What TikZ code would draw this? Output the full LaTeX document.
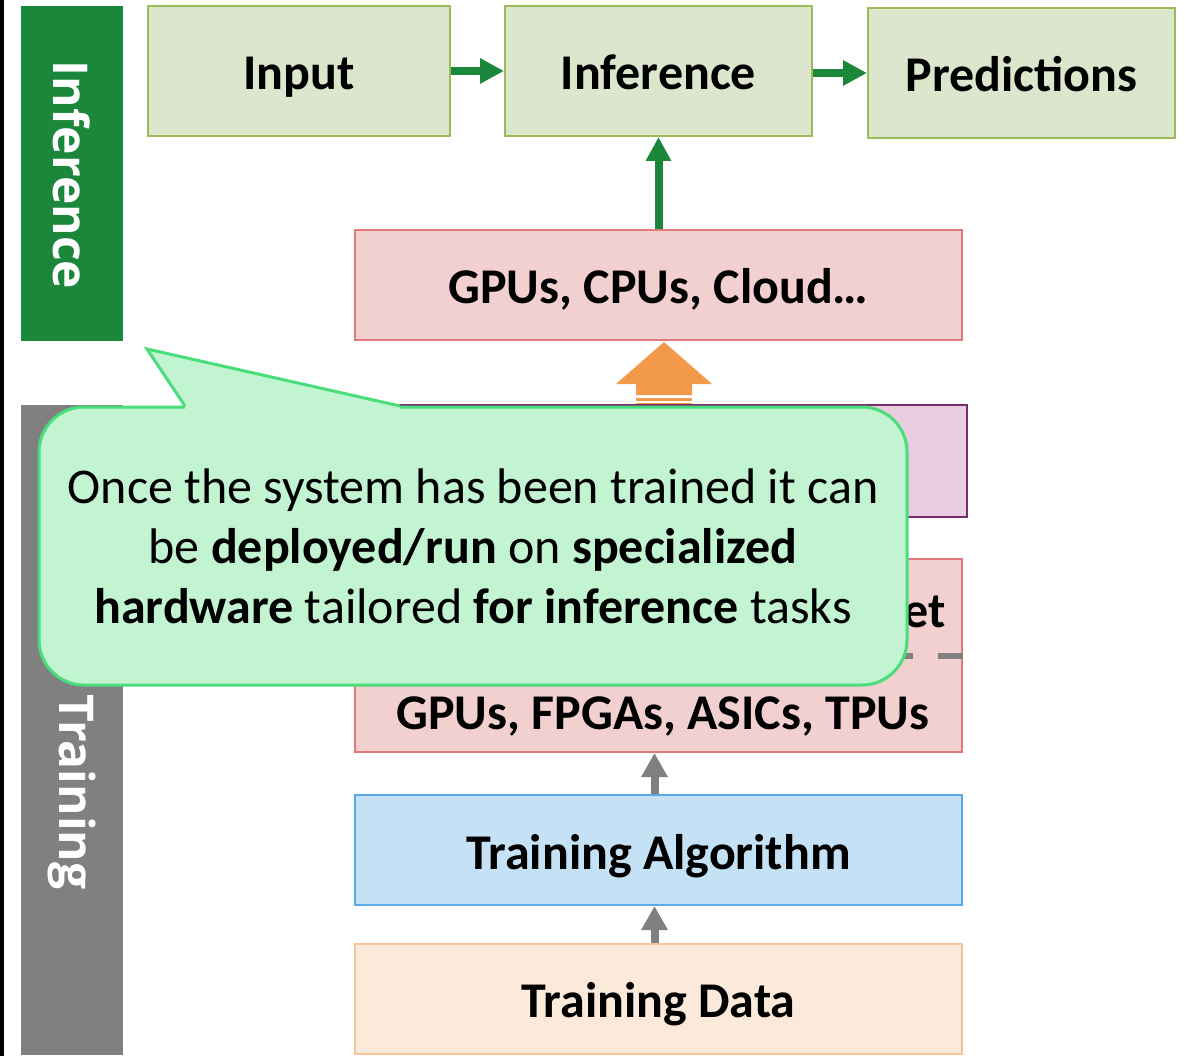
\documentclass[tikz,border=0pt]{standalone}
\usepackage{fontspec}
\setmainfont{Carlito}
\newfontfamily\sidefont{Open Sans}
\usetikzlibrary{arrows.meta}

\definecolor{barGreen}{HTML}{1A873A}
\definecolor{barGray}{HTML}{808080}
\definecolor{inFill}{HTML}{DCE6CD}
\definecolor{inLine}{HTML}{9BBB59}
\definecolor{hwFill}{HTML}{F2D0D0}
\definecolor{hwLine}{HTML}{E07A7A}
\definecolor{mdFill}{HTML}{E8CCE0}
\definecolor{mdLine}{HTML}{7B2C6C}
\definecolor{alFill}{HTML}{C5E1F6}
\definecolor{alLine}{HTML}{5AA9EA}
\definecolor{daFill}{HTML}{FBE9DA}
\definecolor{daLine}{HTML}{F6C496}
\definecolor{coFill}{HTML}{C2F4D2}
\definecolor{coLine}{HTML}{4ADE7B}
\definecolor{blockOrange}{HTML}{F2994A}

\tikzset{
  box/.style={draw, line width=2pt, inner sep=0pt, minimum width=#1,
    text height=38pt, text depth=0pt,
    font=\fontsize{50}{60}\selectfont\bfseries},
  stage/.style={box=302pt, minimum height=130pt, fill=inFill, draw=inLine},
  wide/.style={box=607pt, minimum height=110pt},
  sidebar/.style={inner sep=0pt, minimum width=102pt},
  sidelabel/.style={text=white, rotate=-90, inner sep=0pt,
    font=\sidefont\bfseries\fontsize{48}{60}\selectfont},
  garrow/.style={draw=barGreen, line width=8pt,
    -{Triangle[length=24pt,width=24pt]}},
  grarrow/.style={draw=barGray, line width=8pt,
    -{Triangle[length=24pt,width=25pt]}},
  callout/.style={draw=coLine, fill=coFill, line width=3pt,
    rounded corners=45pt, align=center, inner sep=0pt,
    font=\fontsize{50}{60}\selectfont},
}

\begin{document}
\begin{tikzpicture}[x=1pt,y=-1pt]
\useasboundingbox (0,0) rectangle (1185,1056);
\fill[white] (0,0) rectangle (1185,1056);
\fill[black] (0,0) rectangle (4,1056);

% side bars
\node[sidebar, fill=barGreen, minimum height=335pt] (infbar) at (72,173.5) {};
\node[sidebar, fill=barGray, minimum height=650pt] (trbar) at (72,730) {};
\node[sidelabel] (inflabel) at (72,175) {Inference};
\node[sidelabel] (trlabel) at (72,792) {Training};

% inference pipeline
\node[stage] (input) at (299,71) {Input};
\node[stage, minimum width=307pt] (inference) at (658.5,71) {Inference};
\node[stage, minimum width=307pt] (pred) at (1021.5,73) {Predictions};

\draw[garrow] (input.east) -- (inference.west);
\draw[garrow] ([yshift=-2pt]inference.east) -- ([yshift=-2pt]inference.east -| pred.west);

% hardware for inference
\node[wide, fill=hwFill, draw=hwLine] (cloud) at (658.5,285) {GPUs, CPUs, Cloud…};
\draw[garrow] (cloud.north) -- (inference.south);

% deployment block arrow
\fill[blockOrange] (664,342) -- (712,384) -- (692,384) -- (692,395)
  -- (636,395) -- (636,384) -- (616,384) -- cycle;
\fill[blockOrange] (636,397.5) rectangle (692,401);
\fill[blockOrange] (636,403) rectangle (692,406);

% trained model
\node[wide, minimum width=612pt, minimum height=112pt, fill=mdFill, draw=mdLine] (model) at (661,461) {};

% trained network on training hardware
\node[wide, minimum height=193pt, fill=hwFill, draw=hwLine] (tnet) at (658.5,655.5) {};
\draw[barGray, line width=6pt, dash pattern=on 25pt off 25pt] (tnet.east) -- (tnet.west);
\node[anchor=base east, inner sep=0pt, font=\fontsize{50}{60}\selectfont\bfseries] (tnetname) at (946,627) {et};
\node[anchor=base, inner sep=0pt, font=\fontsize{50}{60}\selectfont\bfseries] (trainhw) at (663,729) {GPUs, FPGAs, ASICs, TPUs};

% training inputs
\node[wide, fill=alFill, draw=alLine] (algo) at (658.5,850) {Training Algorithm};
\node[wide, fill=daFill, draw=daLine] (data) at (658.5,998.5) {Training Data};

\draw[grarrow] ([xshift=-4pt]algo.north) -- ([xshift=-4pt]tnet.south);
\draw[grarrow] ([xshift=-4pt]data.north) -- ([xshift=-4pt]algo.south);

% speech bubble
\node[callout, minimum width=868pt, minimum height=278pt] (note) at (473,546)
  {Once the system has been trained it can\\
   be \textbf{deployed/run} on \textbf{specialized}\\
   \textbf{hardware} tailored \textbf{for inference} tasks};
\coordinate (tipL) at (185,406);
\coordinate (tipR) at (400,406);
\coordinate (tip) at (147,349);
\fill[coFill] (tipL) -- (tip) -- (tipR) -- ([yshift=-4pt]tipR) -- ([yshift=-4pt]tipL) -- cycle;
\draw[coLine, line width=3pt, line join=miter] (tipL) -- (tip) -- (tipR);
\end{tikzpicture}
\end{document}
